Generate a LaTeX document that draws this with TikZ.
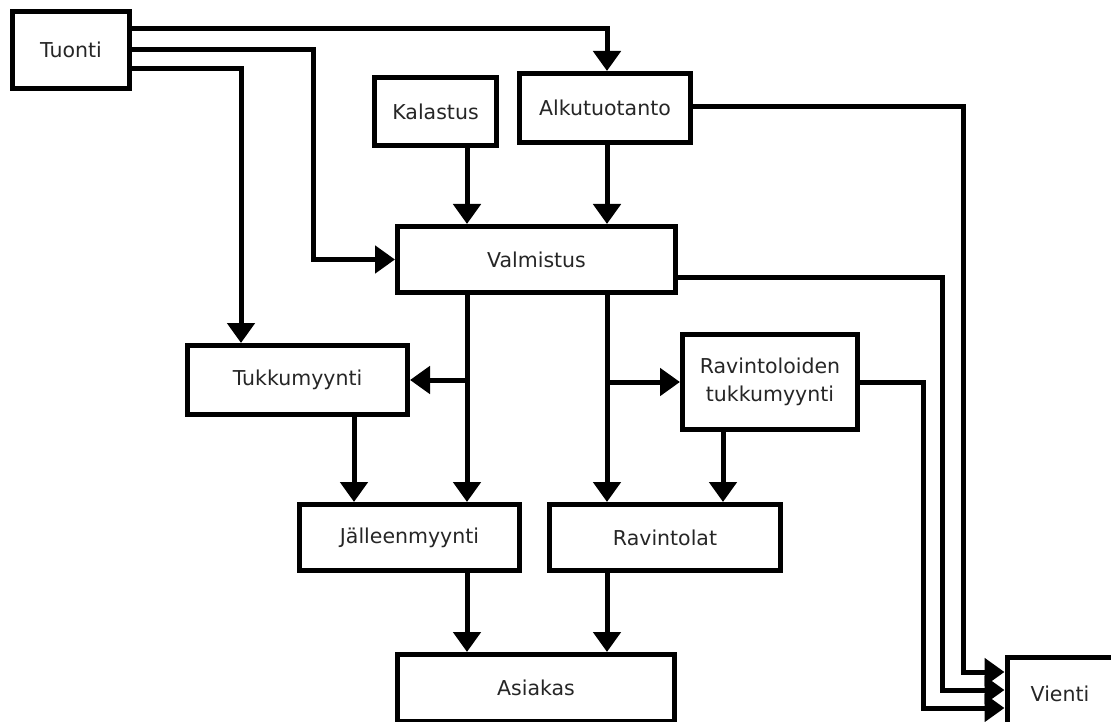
\documentclass[tikz,border=0pt]{standalone}
\usepackage{fontspec}
\setmainfont{DejaVu Sans}
\usetikzlibrary{arrows.meta}
\begin{document}
\begin{tikzpicture}[x=1pt,y=-1pt,
  box/.style={draw=black, line width=5pt, inner sep=0pt, align=center,
    font=\fontsize{20.5}{28}\selectfont, text=black!85},
  arr/.style={line width=5pt, -{Triangle[length=20pt,width=27pt]}}]
\clip (0,0) rectangle (1111,722);
\fill[white] (0,0) rectangle (1111,722);
% nodes
\node[box, minimum width=117pt, minimum height=77pt] (tuonti) at (71,50) {Tuonti};
\node[box, minimum width=122pt, minimum height=68pt] (kala) at (435.5,111.5) {Kalastus};
\node[box, minimum width=171pt, minimum height=69pt] (alku) at (605,108) {Alkutuotanto};
\node[box, minimum width=278pt, minimum height=66pt] (valm) at (536.5,259.5) {Valmistus};
\node[box, minimum width=220pt, minimum height=69pt] (tukku) at (297.5,380) {Tukkumyynti};
\node[box, minimum width=175pt, minimum height=95pt] (ravt) at (770,382) {Ravintoloiden\\tukkumyynti};
\node[box, minimum width=220pt, minimum height=66pt] (jall) at (409.5,537.5) {Jälleenmyynti};
\node[box, minimum width=231pt, minimum height=66pt] (rav) at (665,537.5) {Ravintolat};
\node[box, minimum width=277pt, minimum height=67pt] (asia) at (536,688) {Asiakas};
\node[box, minimum width=106pt, minimum height=72pt] (vienti) at (1060,693.5) {Vienti};
% routing coordinates
\coordinate (xA) at (607,0);
\coordinate (xB) at (467,0);
\coordinate (xT2) at (313,0);
\coordinate (xT3) at (241,0);
\coordinate (xTk) at (354,0);
\coordinate (xR) at (723,0);
\coordinate (xV1) at (963,0);
\coordinate (xV2) at (942,0);
\coordinate (xV3) at (923,0);
\coordinate (yT1) at (0,29);
\coordinate (yT3) at (0,69);
\coordinate (yAl) at (0,107);
\coordinate (yVa) at (0,277);
\coordinate (yV1) at (0,672);
\coordinate (yV2) at (0,690);
\coordinate (yV3) at (0,708);
\coordinate (jB) at (xB |- tukku.east);
\coordinate (jA) at (xA |- ravt.west);
% connectors from Tuonti
\draw[arr] (tuonti.east |- yT1) -| (alku.north -| xA);
\draw[arr] (tuonti.east) -| (xT2 |- valm.west) -- (valm.west);
\draw[arr] (tuonti.east |- yT3) -| (tukku.north -| xT3);
% into Valmistus
\draw[arr] (kala.south -| xB) -- (valm.north -| xB);
\draw[arr] (alku.south -| xA) -- (valm.north -| xA);
% to Vienti
\draw[arr] (alku.east |- yAl) -| (xV1 |- yV1) -- (vienti.west |- yV1);
\draw[arr] (valm.east |- yVa) -| (xV2 |- yV2) -- (vienti.west |- yV2);
\draw[arr] (ravt.east) -| (xV3 |- yV3) -- (vienti.west |- yV3);
% from Valmistus down
\draw[arr] (valm.south -| xB) -- (jall.north -| xB);
\draw[arr] (jB) -- (tukku.east);
\draw[arr] (valm.south -| xA) -- (rav.north -| xA);
\draw[arr] (jA) -- (ravt.west);
% wholesale to retail
\draw[arr] (tukku.south -| xTk) -- (jall.north -| xTk);
\draw[arr] (ravt.south -| xR) -- (rav.north -| xR);
% to Asiakas
\draw[arr] (jall.south -| xB) -- (asia.north -| xB);
\draw[arr] (rav.south -| xA) -- (asia.north -| xA);
\end{tikzpicture}
\end{document}
